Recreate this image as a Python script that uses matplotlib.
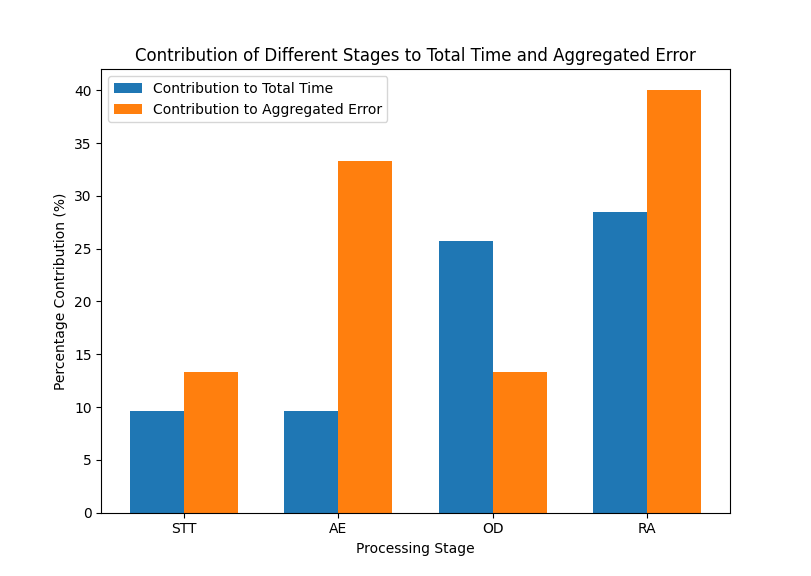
import matplotlib
matplotlib.use("Agg")
import matplotlib.pyplot as plt
import numpy as np

stages = ["STT", "AE", "OD", "RA"]
time_contrib = [9.65, 9.65, 25.75, 28.45]
error_contrib = [13.33, 33.33, 13.33, 40.0]

fig, ax = plt.subplots(figsize=(8.11, 5.76), dpi=100)
x = np.arange(len(stages))
w = 0.35
ax.bar(x - w/2, time_contrib, w, label="Contribution to Total Time")
ax.bar(x + w/2, error_contrib, w, label="Contribution to Aggregated Error")
ax.set_xticks(x)
ax.set_xticklabels(stages)
ax.set_xlabel("Processing Stage")
ax.set_ylabel("Percentage Contribution (%)")
ax.set_title("Contribution of Different Stages to Total Time and Aggregated Error")
ax.legend(loc="upper left")
fig.savefig("out.png", dpi=100)
